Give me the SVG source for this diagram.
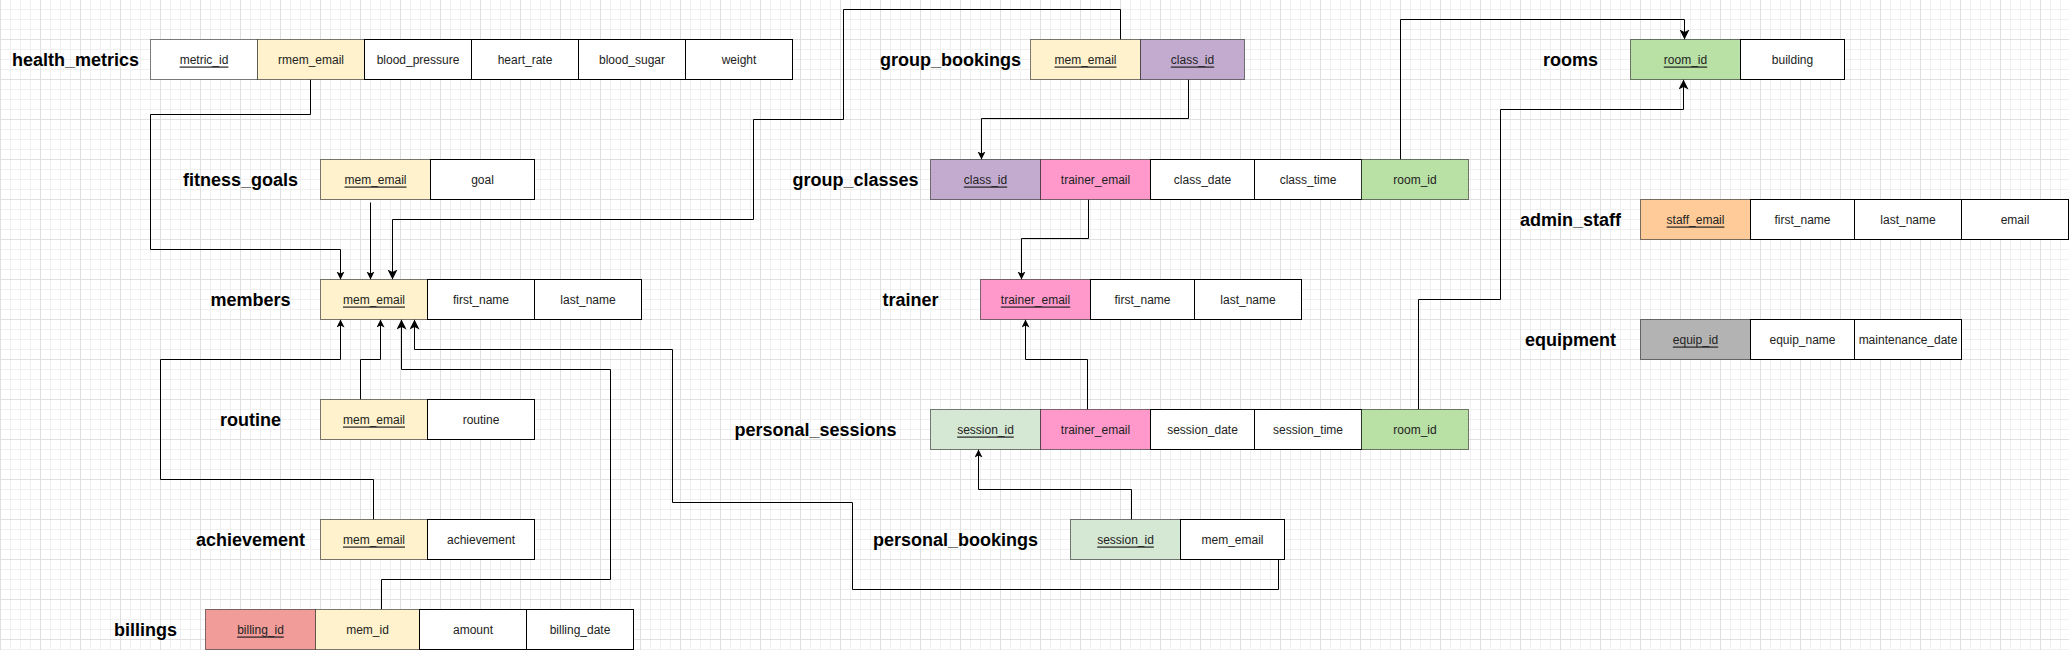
<svg xmlns="http://www.w3.org/2000/svg" width="2069" height="650" viewBox="0 0 2069 650">
<style>
.w{fill:#fff;stroke:#000;stroke-width:1}
.k{stroke:#000;stroke-opacity:.5;stroke-width:1}
.y{fill:#fff2cc}.p{fill:#c3abd0}.pk{fill:#ff99cc}.g{fill:#b9e0a5}.lg{fill:#d5e8d4}.r{fill:#f19c99}.o{fill:#ffcc99}.gr{fill:#b3b3b3}.wh{fill:#fff}
.t{font-family:"Liberation Sans",Arial,sans-serif;font-size:12px;fill:#222;text-anchor:middle;dominant-baseline:central}
.u{text-decoration:underline}
.l{font-family:"Liberation Sans",Arial,sans-serif;font-size:18px;font-weight:bold;fill:#000;text-anchor:middle;dominant-baseline:central}
.c{fill:none;stroke:#000;stroke-width:1}
</style>
<defs>
<pattern id="grid" patternUnits="userSpaceOnUse" x="0" y="-1" width="40" height="40">
<rect width="40" height="40" fill="#fff"/>
<rect x="10" y="0" width="1" height="40" fill="#f0f0f0"/>
<rect x="20" y="0" width="1" height="40" fill="#f0f0f0"/>
<rect x="30" y="0" width="1" height="40" fill="#f0f0f0"/>
<rect x="0" y="10" width="40" height="1" fill="#f0f0f0"/>
<rect x="0" y="20" width="40" height="1" fill="#f0f0f0"/>
<rect x="0" y="30" width="40" height="1" fill="#f0f0f0"/>
<rect x="0" y="0" width="1" height="40" fill="#e0e0e0"/>
<rect x="0" y="0" width="40" height="1" fill="#e0e0e0"/>
</pattern>
<marker id="a" markerUnits="userSpaceOnUse" markerWidth="12" markerHeight="12" refX="8" refY="4" orient="auto"><path d="M0,0 L8,4 L0,8 L2,4 z" fill="#000"/></marker>
<marker id="b" markerUnits="userSpaceOnUse" markerWidth="14" markerHeight="14" refX="10" refY="5" orient="auto"><path d="M0,0 L10,5 L0,10 L2.5,5 z" fill="#000"/></marker>
</defs>
<rect x="0" y="0" width="2069" height="650" fill="url(#grid)"/>
<g transform="translate(0.5,-0.5)">
<g id="connectors">
<path class="c" d="M310,80 V115 H150 V250 H340 V280" marker-end="url(#a)"/>
<path class="c" d="M370,203 V280" marker-end="url(#a)"/>
<path class="c" d="M1120,40 V10 H843 V120 H753 V220 H392 V280" marker-end="url(#b)"/>
<path class="c" d="M1188,80 V119 H981 V160" marker-end="url(#a)"/>
<path class="c" d="M1400,160 V20 H1684 V40" marker-end="url(#b)"/>
<path class="c" d="M1088,200 V239 H1021 V280" marker-end="url(#a)"/>
<path class="c" d="M1087,410 V360 H1025 V320" marker-end="url(#a)"/>
<path class="c" d="M1418,410 V300 H1500 V110 H1683 V80" marker-end="url(#b)"/>
<path class="c" d="M1131,520 V490 H978 V450" marker-end="url(#a)"/>
<path class="c" d="M1278,560 V590 H852 V503 H672 V350 H414 V320" marker-end="url(#b)"/>
<path class="c" d="M360,400 V360 H380 V320" marker-end="url(#a)"/>
<path class="c" d="M373,520 V480 H160 V360 H340 V320" marker-end="url(#a)"/>
<path class="c" d="M381,610 V580 H610 V370 H401 V320" marker-end="url(#b)"/>
</g>

<g id="health_metrics">
<text class="l" x="75" y="60">health_metrics</text>
<rect class="k wh" x="150" y="40" width="107" height="40"/>
<rect class="k y" x="257" y="40" width="107" height="40"/>
<rect class="w" x="364" y="40" width="107" height="40"/>
<rect class="w" x="471" y="40" width="107" height="40"/>
<rect class="w" x="578" y="40" width="107" height="40"/>
<rect class="w" x="685" y="40" width="107" height="40"/>
<text class="t u" x="203.5" y="60">metric_id</text>
<text class="t" x="310.5" y="60">rmem_email</text>
<text class="t" x="417.5" y="60">blood_pressure</text>
<text class="t" x="524.5" y="60">heart_rate</text>
<text class="t" x="631.5" y="60">blood_sugar</text>
<text class="t" x="738.5" y="60">weight</text>
</g>

<g id="fitness_goals">
<text class="l" x="240" y="180">fitness_goals</text>
<rect class="k y" x="320" y="160" width="110" height="40"/>
<rect class="w" x="430" y="160" width="104" height="40"/>
<text class="t u" x="375" y="180">mem_email</text>
<text class="t" x="482" y="180">goal</text>
</g>

<g id="members">
<text class="l" x="250" y="300">members</text>
<rect class="k y" x="320" y="280" width="107" height="40"/>
<rect class="w" x="427" y="280" width="107" height="40"/>
<rect class="w" x="534" y="280" width="107" height="40"/>
<text class="t u" x="373.5" y="300">mem_email</text>
<text class="t" x="480.5" y="300">first_name</text>
<text class="t" x="587.5" y="300">last_name</text>
</g>

<g id="routine">
<text class="l" x="250" y="420">routine</text>
<rect class="k y" x="320" y="400" width="107" height="40"/>
<rect class="w" x="427" y="400" width="107" height="40"/>
<text class="t u" x="373.5" y="420">mem_email</text>
<text class="t" x="480.5" y="420">routine</text>
</g>

<g id="achievement">
<text class="l" x="250" y="540">achievement</text>
<rect class="k y" x="320" y="520" width="107" height="40"/>
<rect class="w" x="427" y="520" width="107" height="40"/>
<text class="t u" x="373.5" y="540">mem_email</text>
<text class="t" x="480.5" y="540">achievement</text>
</g>

<g id="billings">
<text class="l" x="145" y="630">billings</text>
<rect class="k r" x="205" y="610" width="110" height="40"/>
<rect class="k y" x="315" y="610" width="104" height="40"/>
<rect class="w" x="419" y="610" width="107" height="40"/>
<rect class="w" x="526" y="610" width="107" height="40"/>
<text class="t u" x="260" y="630">billing_id</text>
<text class="t" x="367" y="630">mem_id</text>
<text class="t" x="472.5" y="630">amount</text>
<text class="t" x="579.5" y="630">billing_date</text>
</g>

<g id="group_bookings">
<text class="l" x="950" y="60">group_bookings</text>
<rect class="k y" x="1030" y="40" width="110" height="40"/>
<rect class="k p" x="1140" y="40" width="104" height="40"/>
<text class="t u" x="1085" y="60">mem_email</text>
<text class="t u" x="1192" y="60">class_id</text>
</g>

<g id="group_classes">
<text class="l" x="855" y="180">group_classes</text>
<rect class="k p" x="930" y="160" width="110" height="40"/>
<rect class="k pk" x="1040" y="160" width="110" height="40"/>
<rect class="w" x="1150" y="160" width="104" height="40"/>
<rect class="w" x="1254" y="160" width="107" height="40"/>
<rect class="k g" x="1361" y="160" width="107" height="40"/>
<text class="t u" x="985" y="180">class_id</text>
<text class="t" x="1095" y="180">trainer_email</text>
<text class="t" x="1202" y="180">class_date</text>
<text class="t" x="1307.5" y="180">class_time</text>
<text class="t" x="1414.5" y="180">room_id</text>
</g>

<g id="trainer">
<text class="l" x="910" y="300">trainer</text>
<rect class="k pk" x="980" y="280" width="110" height="40"/>
<rect class="w" x="1090" y="280" width="104" height="40"/>
<rect class="w" x="1194" y="280" width="107" height="40"/>
<text class="t u" x="1035" y="300">trainer_email</text>
<text class="t" x="1142" y="300">first_name</text>
<text class="t" x="1247.5" y="300">last_name</text>
</g>

<g id="personal_sessions">
<text class="l" x="815" y="430">personal_sessions</text>
<rect class="k lg" x="930" y="410" width="110" height="40"/>
<rect class="k pk" x="1040" y="410" width="110" height="40"/>
<rect class="w" x="1150" y="410" width="104" height="40"/>
<rect class="w" x="1254" y="410" width="107" height="40"/>
<rect class="k g" x="1361" y="410" width="107" height="40"/>
<text class="t u" x="985" y="430">session_id</text>
<text class="t" x="1095" y="430">trainer_email</text>
<text class="t" x="1202" y="430">session_date</text>
<text class="t" x="1307.5" y="430">session_time</text>
<text class="t" x="1414.5" y="430">room_id</text>
</g>

<g id="personal_bookings">
<text class="l" x="955" y="540">personal_bookings</text>
<rect class="k lg" x="1070" y="520" width="110" height="40"/>
<rect class="w" x="1180" y="520" width="104" height="40"/>
<text class="t u" x="1125" y="540">session_id</text>
<text class="t" x="1232" y="540">mem_email</text>
</g>

<g id="rooms">
<text class="l" x="1570" y="60">rooms</text>
<rect class="k g" x="1630" y="40" width="110" height="40"/>
<rect class="w" x="1740" y="40" width="104" height="40"/>
<text class="t u" x="1685" y="60">room_id</text>
<text class="t" x="1792" y="60">building</text>
</g>

<g id="admin_staff">
<text class="l" x="1570" y="220">admin_staff</text>
<rect class="k o" x="1640" y="200" width="110" height="40"/>
<rect class="w" x="1750" y="200" width="104" height="40"/>
<rect class="w" x="1854" y="200" width="107" height="40"/>
<rect class="w" x="1961" y="200" width="107" height="40"/>
<text class="t u" x="1695" y="220">staff_email</text>
<text class="t" x="1802" y="220">first_name</text>
<text class="t" x="1907.5" y="220">last_name</text>
<text class="t" x="2014.5" y="220">email</text>
</g>

<g id="equipment">
<text class="l" x="1570" y="340">equipment</text>
<rect class="k gr" x="1640" y="320" width="110" height="40"/>
<rect class="w" x="1750" y="320" width="104" height="40"/>
<rect class="w" x="1854" y="320" width="107" height="40"/>
<text class="t u" x="1695" y="340">equip_id</text>
<text class="t" x="1802" y="340">equip_name</text>
<text class="t" x="1907.5" y="340">maintenance_date</text>
</g>
</g>
</svg>
